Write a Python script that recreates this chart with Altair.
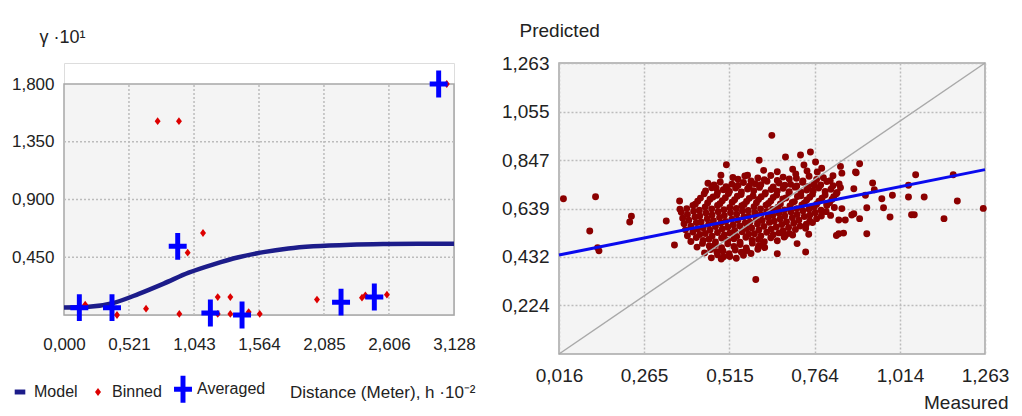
import altair as alt
import pandas as pd

# ---------------- left panel: semivariogram ----------------
series_names = ["Model", "Binned", "Averaged"]
series_colors = ["#1c1c8a", "#dd0000", "#0000ff"]

model_h = [0.0, 0.2, 0.4, 0.6, 0.8, 1.0, 1.2, 1.4, 1.6, 1.8, 2.0, 2.3, 2.6, 2.9, 3.128]
model_g = [0.058, 0.064, 0.095, 0.165, 0.245, 0.33, 0.395, 0.45, 0.49, 0.518, 0.535, 0.548, 0.553, 0.555, 0.556]

binned_h = [0.17, 0.425, 0.658, 0.751, 0.922, 0.925, 0.992, 1.115, 1.233, 1.233,
            1.334, 1.334, 1.481, 1.57, 2.029, 2.39, 2.417, 2.59, 3.07]
binned_g = [0.08, 0.0, 0.049, 1.51, 1.51, 0.008, 0.486, 0.639, 0.14, 0.008,
            0.14, 0.008, 0.023, 0.008, 0.12, 0.135, 0.153, 0.158, 1.8]

avg_h = [0.123, 0.385, 0.912, 1.174, 1.428, 2.222, 2.489, 3.005]
avg_g = [0.057, 0.057, 0.535, 0.016, 0.0, 0.10, 0.14, 1.8]

x_ticks_left = [0.0, 0.521, 1.043, 1.564, 2.085, 2.606, 3.128]
y_ticks_left = [0.45, 0.9, 1.35, 1.8]
y_top_left = 1.8

# ---------------- right panel: predicted vs measured ----------------
measured_outer = [
    0.029, 0.123, 0.228, 0.223, 0.106, 0.129, 0.133, 0.896, 0.886, 0.879,
    0.934, 0.939, 0.913, 0.961, 0.992, 0.917, 0.966, 0.879, 0.896, 0.985,
    0.917, 1.039, 1.060, 1.039, 1.085, 1.048, 1.056, 1.143, 1.170, 1.182,
    1.258, 0.370, 0.639, 0.602, 0.679, 0.723, 0.752, 0.733, 0.767, 0.772,
    0.762, 0.840, 0.884, 0.709, 0.506, 0.490, 0.476, 0.508, 0.568, 0.369,
    0.835, 0.849, 0.811, 0.835, 0.854, 0.873, 0.844, 0.800, 0.679, 0.675,
    0.747, 0.713, 0.655, 0.738, 0.592, 0.491, 0.330, 0.828, 0.844, 0.354,
]
predicted_outer = [
    0.681, 0.690, 0.606, 0.582, 0.543, 0.471, 0.458, 0.831, 0.793, 0.724,
    0.749, 0.720, 0.696, 0.681, 0.696, 0.643, 0.643, 0.617, 0.596, 0.603,
    0.531, 0.739, 0.784, 0.689, 0.689, 0.613, 0.613, 0.596, 0.784, 0.672,
    0.640, 0.636, 0.953, 0.846, 0.860, 0.869, 0.882, 0.826, 0.839, 0.796,
    0.740, 0.820, 0.796, 0.787, 0.827, 0.782, 0.727, 0.727, 0.782, 0.672,
    0.531, 0.534, 0.610, 0.590, 0.590, 0.612, 0.639, 0.660, 0.525, 0.517,
    0.529, 0.489, 0.446, 0.453, 0.335, 0.423, 0.586, 0.524, 0.791, 0.483,
]
measured_core = [
    0.615, 0.655, 0.700, 0.742, 0.785,
    0.525, 0.560, 0.598, 0.636, 0.672, 0.711, 0.748, 0.790, 0.818,
    0.452, 0.488, 0.522, 0.556, 0.590, 0.625, 0.660, 0.694, 0.729, 0.763, 0.800, 0.836,
    0.463, 0.497, 0.533, 0.568, 0.603, 0.637, 0.672, 0.707, 0.741, 0.776, 0.812, 0.840,
    0.441, 0.478, 0.512, 0.549, 0.584, 0.619, 0.653, 0.689, 0.724, 0.758, 0.795, 0.828,
    0.422, 0.458, 0.494, 0.530, 0.565, 0.600, 0.636, 0.671, 0.705, 0.741, 0.777, 0.815,
    0.408, 0.444, 0.480, 0.516, 0.551, 0.587, 0.622, 0.657, 0.692, 0.727, 0.763, 0.800, 0.822,
    0.374, 0.410, 0.446, 0.482, 0.518, 0.553, 0.589, 0.624, 0.660, 0.695, 0.730, 0.766, 0.798,
    0.378, 0.414, 0.450, 0.486, 0.522, 0.557, 0.593, 0.628, 0.663, 0.699, 0.734, 0.770,
    0.382, 0.418, 0.454, 0.490, 0.526, 0.561, 0.597, 0.632, 0.668, 0.703, 0.740, 0.758,
    0.386, 0.422, 0.458, 0.494, 0.530, 0.565, 0.601, 0.637, 0.672, 0.708, 0.738,
    0.392, 0.428, 0.464, 0.500, 0.536, 0.571, 0.607, 0.643, 0.676, 0.700,
    0.402, 0.438, 0.474, 0.510, 0.546, 0.581, 0.617, 0.655,
    0.420, 0.456, 0.492, 0.528, 0.564, 0.600, 0.618,
    0.442, 0.478, 0.514, 0.550, 0.578,
    0.462, 0.498, 0.535,
]
predicted_core = [
    0.803, 0.797, 0.808, 0.800, 0.812,
    0.772, 0.779, 0.770, 0.781, 0.774, 0.769, 0.778, 0.771, 0.780,
    0.748, 0.753, 0.744, 0.751, 0.746, 0.756, 0.749, 0.743, 0.752, 0.747, 0.755, 0.745,
    0.728, 0.720, 0.727, 0.723, 0.730, 0.721, 0.726, 0.731, 0.719, 0.727, 0.722, 0.729,
    0.703, 0.696, 0.704, 0.699, 0.693, 0.702, 0.697, 0.705, 0.694, 0.701, 0.697, 0.703,
    0.671, 0.679, 0.673, 0.677, 0.670, 0.678, 0.672, 0.680, 0.669, 0.676, 0.671, 0.678,
    0.653, 0.646, 0.652, 0.644, 0.651, 0.647, 0.654, 0.645, 0.650, 0.655, 0.646, 0.652, 0.644,
    0.623, 0.628, 0.620, 0.626, 0.621, 0.629, 0.622, 0.627, 0.619, 0.625, 0.630, 0.621, 0.626,
    0.598, 0.603, 0.596, 0.601, 0.594, 0.604, 0.597, 0.602, 0.595, 0.600, 0.605, 0.596,
    0.574, 0.579, 0.571, 0.577, 0.570, 0.578, 0.573, 0.580, 0.571, 0.576, 0.572, 0.579,
    0.548, 0.553, 0.546, 0.552, 0.545, 0.554, 0.547, 0.551, 0.544, 0.550, 0.555,
    0.523, 0.528, 0.521, 0.526, 0.520, 0.529, 0.522, 0.527, 0.519, 0.526,
    0.498, 0.503, 0.496, 0.502, 0.495, 0.504, 0.497, 0.501,
    0.474, 0.479, 0.471, 0.477, 0.470, 0.478, 0.472,
    0.449, 0.454, 0.446, 0.452, 0.447,
    0.428, 0.433, 0.426,
]
measured_fill = [
    0.540, 0.578, 0.617, 0.655, 0.690, 0.730, 0.770, 0.810,
    0.470, 0.505, 0.540, 0.573, 0.607, 0.643, 0.677, 0.712, 0.746, 0.782, 0.818,
    0.445, 0.480, 0.515, 0.550, 0.586, 0.620, 0.655, 0.690, 0.724, 0.760, 0.795, 0.830,
    0.430, 0.467, 0.503, 0.538, 0.573, 0.608, 0.643, 0.680, 0.714, 0.750, 0.786, 0.820,
    0.415, 0.451, 0.487, 0.523, 0.558, 0.594, 0.629, 0.664, 0.699, 0.734, 0.770, 0.808,
    0.390, 0.427, 0.463, 0.499, 0.535, 0.570, 0.606, 0.641, 0.676, 0.712, 0.748, 0.783,
    0.392, 0.428, 0.464, 0.500, 0.536, 0.571, 0.607, 0.642, 0.677, 0.713, 0.750, 0.784,
    0.396, 0.432, 0.468, 0.504, 0.540, 0.575, 0.611, 0.646, 0.682, 0.718, 0.750,
    0.402, 0.438, 0.474, 0.510, 0.545, 0.580, 0.616, 0.652, 0.688, 0.722,
    0.408, 0.444, 0.480, 0.516, 0.552, 0.588, 0.624, 0.660, 0.690,
    0.418, 0.455, 0.492, 0.528, 0.563, 0.600, 0.636,
    0.436, 0.473, 0.510, 0.546, 0.582, 0.610,
    0.460, 0.496, 0.532, 0.566, 0.598,
    0.480, 0.516, 0.556,
]
predicted_fill = [
    0.765, 0.758, 0.763, 0.760, 0.766, 0.757, 0.764, 0.759,
    0.740, 0.733, 0.738, 0.735, 0.741, 0.732, 0.739, 0.736, 0.734, 0.740, 0.737,
    0.715, 0.708, 0.713, 0.710, 0.716, 0.707, 0.714, 0.711, 0.709, 0.715, 0.712, 0.708,
    0.684, 0.689, 0.686, 0.692, 0.683, 0.690, 0.687, 0.685, 0.691, 0.688, 0.684, 0.690,
    0.658, 0.663, 0.660, 0.666, 0.657, 0.664, 0.661, 0.659, 0.665, 0.662, 0.658, 0.664,
    0.639, 0.632, 0.637, 0.634, 0.640, 0.631, 0.638, 0.635, 0.633, 0.639, 0.636, 0.632,
    0.614, 0.607, 0.612, 0.609, 0.615, 0.606, 0.613, 0.610, 0.608, 0.614, 0.611, 0.607,
    0.589, 0.582, 0.587, 0.584, 0.590, 0.581, 0.588, 0.585, 0.583, 0.589, 0.586,
    0.564, 0.557, 0.562, 0.559, 0.565, 0.556, 0.563, 0.560, 0.558, 0.564,
    0.539, 0.532, 0.537, 0.534, 0.540, 0.531, 0.538, 0.535, 0.533,
    0.515, 0.508, 0.513, 0.510, 0.516, 0.507, 0.514,
    0.490, 0.483, 0.488, 0.485, 0.491, 0.482,
    0.464, 0.457, 0.462, 0.459, 0.465,
    0.441, 0.434, 0.439,
]

x_ticks_right = [0.016, 0.265, 0.515, 0.764, 1.014, 1.263]
y_ticks_right = [0.224, 0.432, 0.639, 0.847, 1.055, 1.263]
reg_x = [0.016, 1.263]
reg_y = [0.44, 0.806]

# ---------------- styling ----------------
FONT = "Liberation Sans, Arial, sans-serif"
TXT = "#222222"
PANEL_BG = "#f4f4f4"
FRAME = "#a6a6a6"
GRIDC = "#bcbcbc"
LBL = "replace(format(datum.value, '.3f'), '.', ',')"
COMMON = dict(ticks=False, domain=False, labelColor=TXT, titleColor=TXT,
              titleFontWeight="normal", labelOverlap=False, labelFlush=False,
              labelFont=FONT, titleFont=FONT)

LEFT_W, LEFT_PLOT_H, LEFT_HEADROOM = 390, 231, 21
left_h = LEFT_PLOT_H + LEFT_HEADROOM
y_max_left = y_top_left * left_h / LEFT_PLOT_H

model_path = "M-0.75,-0.35H0.75V0.35H-0.75Z"
binned_path = "M0,-0.55L0.42,0L0,0.55L-0.42,0Z"
cross_path = "M-0.35,-1.9H0.35V-0.35H1.27V0.35H0.35V1.9H-0.35V0.35H-1.27V-0.35H-0.35Z"

df_model = pd.DataFrame({"h": model_h, "g": model_g})
df_binned = pd.DataFrame({"h": binned_h, "g": binned_g, "series": "Binned"})
df_avg = pd.DataFrame({"h": avg_h, "g": avg_g, "series": "Averaged"})
df_frame = pd.DataFrame({"h": [x_ticks_left[0]], "h2": [x_ticks_left[-1]],
                         "g": [0.0], "g2": [y_top_left]})
df_vgrid = pd.DataFrame({"h": x_ticks_left[1:-1], "g": 0.0, "g2": y_top_left})
df_hgrid = pd.DataFrame({"g": y_ticks_left[:-1], "h": x_ticks_left[0], "h2": x_ticks_left[-1]})

xl = alt.X("h:Q", scale=alt.Scale(domain=[x_ticks_left[0], x_ticks_left[-1]], nice=False, zero=False),
           axis=alt.Axis(values=x_ticks_left, labelExpr=LBL, labelFontSize=17,
                         labelPadding=21, titleFontSize=17, grid=False,
                         title="Distance (Meter), h ·10⁻²",
                         titleAlign="right", titleX=411, titleY=77,
                         titleBaseline="middle", titleAnchor="end", **COMMON))
yl = alt.Y("g:Q", scale=alt.Scale(domain=[0, y_max_left], nice=False, zero=False),
           axis=alt.Axis(values=y_ticks_left, labelExpr=LBL, labelFontSize=17,
                         labelPadding=10, titleFontSize=18, title="γ ·10¹", grid=False,
                         titleAngle=0, titleAlign="left", titleX=-25, titleY=-26,
                         titleBaseline="middle", **COMMON))

leg = alt.Legend(title=None, orient="none", legendX=-52, legendY=318, padding=0,
                 direction="horizontal", labelFont=FONT, labelFontSize=16,
                 labelColor=TXT, symbolSize=200, symbolStrokeWidth=0,
                 symbolOpacity=1, labelOffset=6, columnPadding=12)
color_enc = alt.Color("series:N", scale=alt.Scale(domain=series_names, range=series_colors), legend=leg)
shape_enc = alt.Shape("series:N", scale=alt.Scale(domain=series_names,
                      range=[model_path, binned_path, cross_path]), legend=leg)

frame = alt.Chart(df_frame).mark_rect(fill=PANEL_BG, stroke=FRAME, strokeWidth=1.5).encode(
    x=xl, x2="h2:Q", y=yl, y2="g2:Q")
vgrid = alt.Chart(df_vgrid).mark_rule(color=GRIDC, strokeDash=[2, 2], strokeWidth=1.5).encode(
    x=xl, y=yl, y2="g2:Q")
hgrid = alt.Chart(df_hgrid).mark_rule(color=GRIDC, strokeDash=[2, 2], strokeWidth=1.5).encode(
    y=yl, x=xl, x2="h2:Q")
model_line = alt.Chart(df_model).mark_line(
    color=series_colors[0], strokeWidth=4.5, interpolate="monotone"
).encode(x=xl, y=yl)
binned_pts = alt.Chart(df_binned).mark_point(
    filled=True, opacity=1, size=200, strokeWidth=0
).encode(x=xl, y=yl, color=color_enc, shape=shape_enc)
avg_pts = alt.Chart(df_avg).mark_point(
    filled=True, opacity=1, size=200, strokeWidth=0
).encode(x=xl, y=yl, color=color_enc, shape=shape_enc)

left = alt.layer(frame, vgrid, hgrid, model_line, binned_pts, avg_pts).properties(
    width=LEFT_W, height=left_h)

measured = measured_outer + measured_core + measured_fill
predicted = predicted_outer + predicted_core + predicted_fill
df_pts = pd.DataFrame({"m": measured, "p": predicted})
df_diag = pd.DataFrame({"m": [x_ticks_right[0], x_ticks_right[-1]],
                        "p": [x_ticks_right[0], x_ticks_right[-1]]})
df_reg = pd.DataFrame({"m": reg_x, "p": reg_y})

GRID_R = dict(grid=True, gridColor=GRIDC, gridDash=[2, 2], gridWidth=1.5)
xr = alt.X("m:Q", scale=alt.Scale(domain=[x_ticks_right[0], x_ticks_right[-1]], nice=False, zero=False),
           axis=alt.Axis(values=x_ticks_right, labelExpr=LBL, labelFontSize=19,
                         labelPadding=12, titleFontSize=19, title="Measured",
                         titleAlign="right", titleX=449, titleY=48,
                         titleBaseline="middle", titleAnchor="end", **GRID_R, **COMMON))
yr = alt.Y("p:Q", scale=alt.Scale(domain=[x_ticks_right[0], y_ticks_right[-1]], nice=False, zero=False),
           axis=alt.Axis(values=y_ticks_right, labelExpr=LBL, labelFontSize=19,
                         labelPadding=10, titleFontSize=19, title="Predicted",
                         titleAngle=0, titleAlign="left", titleX=-40, titleY=-33,
                         titleBaseline="middle", **GRID_R, **COMMON))

pts = alt.Chart(df_pts).mark_circle(size=48, color="#8b0000", opacity=1).encode(x=xr, y=yr)
diag = alt.Chart(df_diag).mark_line(color="#a9a9a9", strokeWidth=1.5).encode(x=xr, y=yr)
reg = alt.Chart(df_reg).mark_line(color="#0a0aee", strokeWidth=3).encode(x=xr, y=yr)
# blank white rule that only reserves head room above the right panel
pad_df = pd.DataFrame({"k": [0]})
right_head = alt.Chart(pad_df).mark_rule(color="#ffffff", strokeWidth=1).encode(
    x=alt.value(0), x2=alt.value(2), y=alt.value(-53))

right = alt.layer(pts, diag, reg, right_head).properties(
    width=426, height=291,
    view=alt.ViewBackground(fill=PANEL_BG, stroke=FRAME, strokeWidth=1.5))

chart = alt.concat(left, right, columns=2, align="none", spacing=24).properties(
    padding={"left": 2, "top": 0, "right": 0, "bottom": 0}
).configure_view(fill="transparent", stroke="transparent").configure(background="white")

chart.save("out.html", embed_options={"renderer": "svg", "actions": False})
